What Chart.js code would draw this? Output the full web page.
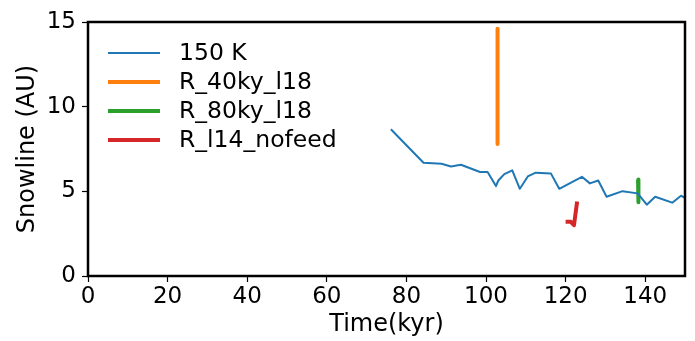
<!DOCTYPE html>
<html>
<head>
<meta charset="utf-8">
<script src="https://cdn.jsdelivr.net/npm/chart.js@4.4.1/dist/chart.umd.min.js"></script>
<style>
  html, body { margin: 0; padding: 0; background: #fff; }
  #wrap { width: 695px; height: 341px; }
</style>
</head>
<body>
<div id="wrap"><canvas id="myChart" width="695" height="341"></canvas></div>
<script>
// values
const time150K = [76.1, 84.3, 88.8, 91.2, 93.7, 98.5, 100.4, 102.5, 103.1, 104.6, 106.6, 108.5, 110.5, 112.5, 116.3, 118.4, 124.1, 126.1, 128.2, 130.3, 134.3, 138.1, 140.4, 142.5, 146.8, 149.0, 151.0];
const snow150K = [8.67, 6.69, 6.63, 6.47, 6.57, 6.14, 6.14, 5.31, 5.64, 6.02, 6.24, 5.15, 5.88, 6.10, 6.06, 5.15, 5.86, 5.47, 5.64, 4.68, 5.01, 4.88, 4.21, 4.68, 4.33, 4.74, 4.5];
const time40ky = [102.9, 102.9];
const snow40ky = [14.6, 7.8];
const time80ky = [138.2, 138.3];
const snow80ky = [5.7, 4.35];
const timeNofeed = [120.0, 121.3, 122.1, 122.9];
const snowNofeed = [3.2, 3.2, 3.0, 4.4];

const xTicks = [0, 20, 40, 60, 80, 100, 120, 140];
const yTicks = [0, 5, 10, 15];

const toPoints = (xs, ys) => xs.map((x, i) => ({ x: x, y: ys[i] }));
const FONT = "'DejaVu Sans', sans-serif";

// matplotlib-style legend inside the plot, plus the closed frame
const framePlugin = {
  id: "frame",
  afterDraw(chart) {
    const ctx = chart.ctx;
    const a = chart.chartArea;
    ctx.save();
    ctx.strokeStyle = "#000";
    ctx.lineWidth = 2.5;
    ctx.strokeRect(a.left, a.top, a.right - a.left, a.bottom - a.top);

    ctx.font = "23.5px " + FONT;
    ctx.textBaseline = "middle";
    ctx.textAlign = "left";
    chart.data.datasets.forEach((ds, i) => {
      const y = a.top + 31 + i * 29;
      ctx.strokeStyle = ds.borderColor;
      ctx.lineWidth = ds.borderWidth;
      ctx.beginPath();
      ctx.moveTo(a.left + 20, y);
      ctx.lineTo(a.left + 72, y);
      ctx.stroke();
      ctx.fillStyle = "#000";
      ctx.fillText(ds.label, a.left + 91, y + 1);
    });
    ctx.restore();
  }
};

const ctx = document.getElementById("myChart");
const myChart = new Chart(ctx, {
  type: "scatter",
  data: {
    datasets: [
      { label: "150 K", data: toPoints(time150K, snow150K), borderColor: "#1f77b4", borderWidth: 2 },
      { label: "R_40ky_l18", data: toPoints(time40ky, snow40ky), borderColor: "#ff7f0e", borderWidth: 4 },
      { label: "R_80ky_l18", data: toPoints(time80ky, snow80ky), borderColor: "#2ca02c", borderWidth: 4 },
      { label: "R_l14_nofeed", data: toPoints(timeNofeed, snowNofeed), borderColor: "#d62728", borderWidth: 4 },
    ],
  },
  options: {
    responsive: false,
    animation: false,
    devicePixelRatio: 1,
    showLine: true,
    elements: { point: { radius: 0 }, line: { tension: 0, borderJoinStyle: "round" } },
    layout: { padding: { top: 22, right: 10, left: 0, bottom: 0 } },
    plugins: { legend: { display: false }, tooltip: { enabled: false } },
    scales: {
      x: {
        type: "linear",
        min: 0,
        max: 150,
        afterBuildTicks: (s) => { s.ticks = xTicks.map(v => ({ value: v })); },
        afterFit: (s) => { s.height = 65; },
        grid: { drawOnChartArea: false, color: "#000", tickLength: 6, tickWidth: 1.2 },
        border: { display: false },
        ticks: { color: "#000", font: { family: FONT, size: 23 }, padding: 1, maxRotation: 0 },
        title: { display: true, text: "Time(kyr)", color: "#000", font: { family: FONT, size: 24 }, padding: { top: 0, bottom: 2 } },
      },
      y: {
        type: "linear",
        min: 0,
        max: 15,
        afterBuildTicks: (s) => { s.ticks = yTicks.map(v => ({ value: v })); },
        afterFit: (s) => { s.width = 88; },
        grid: { drawOnChartArea: false, color: "#000", tickLength: 6, tickWidth: 1.2 },
        border: { display: false },
        ticks: { color: "#000", font: { family: FONT, size: 23 }, padding: 6 },
        title: { display: true, text: "Snowline (AU)", color: "#000", font: { family: FONT, size: 24 }, padding: { top: 13, bottom: 0 } },
      },
    },
  },
  plugins: [framePlugin],
});
</script>
</body>
</html>
